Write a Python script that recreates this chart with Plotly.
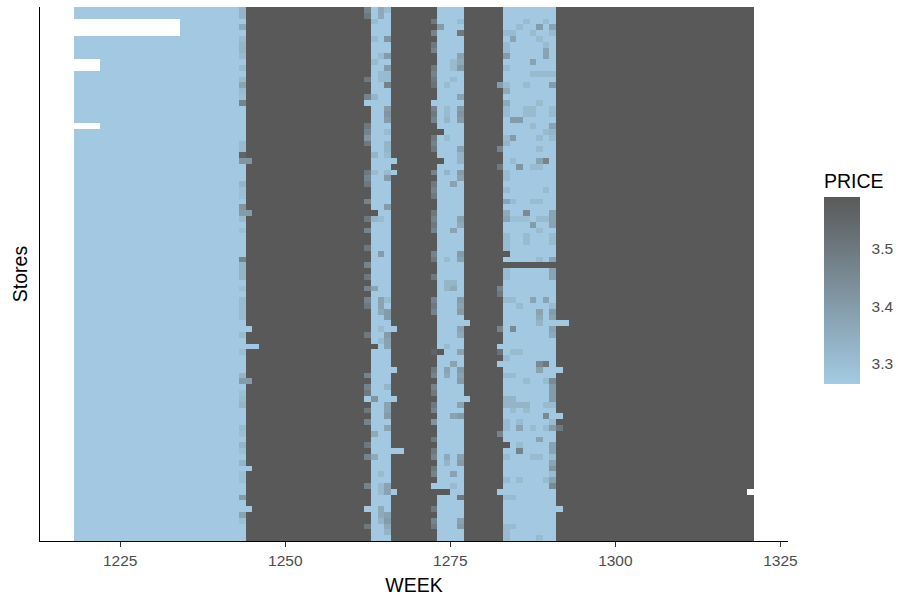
import numpy as np
import plotly.graph_objects as go

# ---- data -----------------------------------------------------------------
WEEKS = list(range(1218, 1321))
N_STORES = 92  # row 0 is the top row of the grid

# regular shelf price by period: (first week, last week, price)
PRICE_PERIODS = [
    (1218, 1243, 3.27),
    (1244, 1262, 3.59),
    (1263, 1265, 3.27),
    (1266, 1272, 3.59),
    (1273, 1276, 3.27),
    (1277, 1282, 3.59),
    (1283, 1290, 3.27),
    (1291, 1320, 3.59),
]

# store-level prices that differ from the regular price: week -> {store row: price}
STORE_PRICES = {
    1243: {0: 3.33, 1: 3.33, 3: 3.36, 5: 3.31, 6: 3.33, 7: 3.33, 8: 3.31, 10: 3.31,
           12: 3.31, 13: 3.38, 14: 3.31, 15: 3.30, 16: 3.47, 23: 3.31, 24: 3.31,
           25: 3.56, 26: 3.42, 30: 3.33, 31: 3.30, 32: 3.30, 34: 3.42, 35: 3.40,
           36: 3.31, 38: 3.30, 43: 3.47, 44: 3.33, 45: 3.33, 46: 3.33, 48: 3.30,
           50: 3.31, 51: 3.31, 52: 3.31, 53: 3.31, 56: 3.31, 59: 3.30, 63: 3.33,
           64: 3.40, 66: 3.30, 67: 3.31, 68: 3.33, 72: 3.31, 73: 3.30, 75: 3.33,
           76: 3.30, 78: 3.33, 80: 3.30, 81: 3.30, 84: 3.40, 87: 3.38, 88: 3.30},
    1244: {26: 3.42, 35: 3.40, 55: 3.27, 58: 3.27, 64: 3.40, 79: 3.27, 86: 3.27},
    1245: {58: 3.27},
    1262: {0: 3.47, 1: 3.50, 12: 3.50, 15: 3.47, 16: 3.27, 20: 3.50, 21: 3.47,
           22: 3.42, 23: 3.50, 28: 3.50, 29: 3.47, 30: 3.50, 33: 3.47, 36: 3.50,
           38: 3.47, 41: 3.50, 44: 3.47, 46: 3.50, 48: 3.47, 50: 3.47, 51: 3.50,
           56: 3.50, 63: 3.47, 65: 3.47, 66: 3.50, 67: 3.27, 69: 3.50, 71: 3.47,
           75: 3.50, 77: 3.47, 82: 3.47, 86: 3.27, 89: 3.50},
    1263: {2: 3.31, 5: 3.31, 9: 3.31, 15: 3.33, 25: 3.33, 28: 3.31, 35: 3.59,
           36: 3.33, 48: 3.38, 58: 3.59, 67: 3.42, 73: 3.36, 77: 3.36},
    1264: {0: 3.36, 1: 3.36, 8: 3.31, 11: 3.31, 12: 3.31, 36: 3.31, 42: 3.40,
           50: 3.38, 51: 3.38, 52: 3.36, 55: 3.31, 57: 3.31, 80: 3.31, 82: 3.31,
           83: 3.31, 86: 3.36, 87: 3.36, 88: 3.33},
    1265: {0: 3.31, 5: 3.42, 8: 3.40, 10: 3.40, 11: 3.31, 12: 3.31, 13: 3.47,
           17: 3.40, 18: 3.42, 19: 3.40, 21: 3.31, 23: 3.33, 24: 3.33, 25: 3.31,
           28: 3.31, 29: 3.40, 34: 3.40, 50: 3.31, 52: 3.40, 53: 3.40, 56: 3.40,
           57: 3.38, 58: 3.38, 65: 3.33, 68: 3.38, 69: 3.38, 70: 3.40, 72: 3.38,
           82: 3.38, 83: 3.38, 87: 3.38, 88: 3.40, 89: 3.36, 90: 3.33},
    1266: {26: 3.27, 28: 3.27, 55: 3.27, 62: 3.27, 67: 3.27, 76: 3.27, 83: 3.27},
    1267: {76: 3.27},
    1272: {2: 3.50, 4: 3.47, 6: 3.50, 7: 3.47, 10: 3.50, 11: 3.47, 12: 3.50,
           13: 3.52, 16: 3.27, 17: 3.47, 18: 3.50, 19: 3.47, 22: 3.50, 23: 3.47,
           24: 3.50, 28: 3.47, 30: 3.50, 31: 3.47, 32: 3.50, 35: 3.50, 36: 3.47,
           37: 3.50, 38: 3.47, 42: 3.47, 43: 3.50, 46: 3.50, 50: 3.47, 51: 3.50,
           52: 3.47, 59: 3.56, 62: 3.50, 63: 3.47, 65: 3.47, 66: 3.50, 68: 3.50,
           69: 3.47, 71: 3.42, 74: 3.50, 76: 3.50, 77: 3.47, 79: 3.50, 80: 3.47,
           82: 3.27, 86: 3.50, 88: 3.47, 89: 3.50},
    1273: {3: 3.40, 21: 3.59, 26: 3.59, 59: 3.59, 83: 3.59},
    1274: {13: 3.31, 17: 3.31, 18: 3.31, 19: 3.33, 22: 3.31, 28: 3.33, 43: 3.31,
           47: 3.33, 48: 3.33, 58: 3.31, 62: 3.38, 63: 3.36, 77: 3.36, 78: 3.33,
           83: 3.59},
    1275: {9: 3.31, 10: 3.31, 12: 3.31, 30: 3.38, 38: 3.38, 47: 3.33, 48: 3.36,
           61: 3.38, 70: 3.38, 80: 3.38, 82: 3.31},
    1276: {2: 3.31, 4: 3.50, 8: 3.38, 9: 3.36, 10: 3.40, 15: 3.38, 17: 3.40,
           18: 3.42, 19: 3.40, 24: 3.38, 25: 3.33, 26: 3.33, 28: 3.40, 29: 3.38,
           36: 3.38, 37: 3.36, 42: 3.40, 43: 3.38, 50: 3.40, 51: 3.38, 52: 3.40,
           55: 3.38, 56: 3.36, 59: 3.38, 62: 3.40, 63: 3.38, 64: 3.40, 68: 3.38,
           70: 3.40, 77: 3.38, 78: 3.40, 84: 3.50, 88: 3.38, 89: 3.40},
    1277: {54: 3.27, 67: 3.27},
    1282: {13: 3.40, 24: 3.47, 27: 3.50, 48: 3.47, 49: 3.50, 55: 3.47, 58: 3.27,
           59: 3.52, 61: 3.27, 73: 3.47, 83: 3.27},
    1283: {4: 3.31, 6: 3.31, 7: 3.31, 8: 3.40, 10: 3.31, 13: 3.31, 14: 3.36,
           16: 3.36, 17: 3.31, 18: 3.31, 22: 3.31, 23: 3.33, 28: 3.31, 29: 3.31,
           31: 3.31, 33: 3.38, 35: 3.36, 36: 3.38, 39: 3.31, 40: 3.31, 41: 3.31,
           42: 3.59, 44: 3.59, 45: 3.31, 46: 3.31, 50: 3.31, 60: 3.31, 63: 3.31,
           67: 3.33, 68: 3.33, 71: 3.31, 72: 3.31, 75: 3.59, 77: 3.31, 81: 3.31,
           84: 3.31, 89: 3.31, 90: 3.31, 91: 3.31},
    1284: {4: 3.31, 5: 3.38, 19: 3.40, 22: 3.40, 26: 3.31, 33: 3.31, 36: 3.30,
           44: 3.59, 50: 3.31, 55: 3.45, 59: 3.31, 63: 3.31, 67: 3.33, 68: 3.33,
           69: 3.31, 84: 3.31, 89: 3.31},
    1285: {3: 3.31, 19: 3.40, 27: 3.42, 36: 3.30, 44: 3.59, 51: 3.31, 59: 3.31,
           68: 3.33, 71: 3.31, 72: 3.38, 75: 3.31, 76: 3.47, 81: 3.31},
    1286: {2: 3.31, 13: 3.31, 17: 3.31, 18: 3.31, 35: 3.45, 36: 3.30, 39: 3.31,
           40: 3.31, 44: 3.59, 64: 3.31, 68: 3.33, 69: 3.31},
    1287: {4: 3.31, 9: 3.38, 11: 3.31, 17: 3.31, 18: 3.31, 20: 3.31, 27: 3.31,
           33: 3.31, 37: 3.40, 44: 3.59, 50: 3.38, 72: 3.31, 77: 3.31},
    1288: {3: 3.40, 5: 3.31, 11: 3.31, 16: 3.31, 22: 3.31, 24: 3.31, 26: 3.38,
           27: 3.31, 33: 3.31, 36: 3.31, 38: 3.31, 43: 3.31, 44: 3.59, 52: 3.38,
           53: 3.36, 54: 3.33, 61: 3.45, 62: 3.38, 74: 3.38, 77: 3.31, 91: 3.31},
    1289: {2: 3.31, 6: 3.31, 7: 3.38, 8: 3.38, 11: 3.31, 21: 3.31, 26: 3.47,
           31: 3.31, 36: 3.31, 44: 3.59, 50: 3.38, 61: 3.50, 64: 3.31, 68: 3.31,
           70: 3.45, 72: 3.31, 81: 3.31},
    1290: {3: 3.38, 4: 3.31, 11: 3.31, 13: 3.40, 17: 3.31, 18: 3.31, 20: 3.38,
           21: 3.33, 22: 3.31, 35: 3.38, 36: 3.38, 37: 3.38, 39: 3.31, 40: 3.31,
           43: 3.38, 44: 3.59, 45: 3.38, 46: 3.38, 51: 3.31, 52: 3.40, 53: 3.38,
           55: 3.38, 56: 3.36, 64: 3.45, 65: 3.40, 66: 3.40, 67: 3.40, 68: 3.31,
           71: 3.31, 72: 3.40, 75: 3.38, 76: 3.38, 77: 3.31, 78: 3.38, 79: 3.42,
           80: 3.31, 81: 3.38, 82: 3.45},
    1291: {54: 3.27, 62: 3.27, 70: 3.27, 72: 3.50, 86: 3.27},
    1292: {54: 3.27},
}

# store weeks without a recorded price: (store row, first week, last week)
MISSING = [
    (2, 1218, 1233), (3, 1218, 1233), (4, 1218, 1233),
    (9, 1218, 1221), (10, 1218, 1221), (20, 1218, 1221),
    (83, 1320, 1320),
]

PRICE_TICKS = [3.3, 3.4, 3.5]
WEEK_TICKS = [1225, 1250, 1275, 1300, 1325]

# ---- price grid -------------------------------------------------------------
col = {w: i for i, w in enumerate(WEEKS)}
z = np.full((N_STORES, len(WEEKS)), np.nan)
for first, last, price in PRICE_PERIODS:
    z[:, col[first]:col[last] + 1] = price
for week, rows in STORE_PRICES.items():
    for r, price in rows.items():
        z[r, col[week]] = price
for r, first, last in MISSING:
    z[r, col[first]:col[last] + 1] = np.nan

week_edges = WEEKS + [WEEKS[-1] + 1]
row_edges = list(range(N_STORES + 1))

LOW, HIGH = "#A3CBE3", "#595959"
FONT = "Liberation Sans, Arial, sans-serif"
TITLE_SIZE = 19.5
TICK_SIZE = 15.5

fig = go.Figure(
    go.Heatmap(
        x=week_edges,
        y=row_edges,
        z=z,
        zmin=3.265,
        zmax=3.59,
        colorscale=[[0, LOW], [1, HIGH]],
        hoverongaps=False,
        colorbar=dict(
            title=dict(text="PRICE", side="top",
                       font=dict(size=TITLE_SIZE, color="black", family=FONT)),
            tickvals=PRICE_TICKS,
            ticktext=[f"{v:.1f}" for v in PRICE_TICKS],
            tickfont=dict(size=TICK_SIZE, color="#4D4D4D", family=FONT),
            ticks="outside",
            tickcolor="white",
            ticklen=9,
            tickwidth=1,
            thickness=36,
            thicknessmode="pixels",
            len=214,
            lenmode="pixels",
            x=1.048,
            xanchor="left",
            xpad=0,
            y=0.4944,
            yanchor="middle",
            ypad=0,
            outlinewidth=0,
        ),
    )
)

fig.update_layout(
    width=898,
    height=598,
    margin=dict(l=40, r=110, t=7, b=57, autoexpand=False),
    plot_bgcolor="white",
    paper_bgcolor="white",
    font=dict(family=FONT),
    xaxis=dict(
        range=[1212.85, 1326.15],
        tickvals=WEEK_TICKS,
        ticks="outside",
        ticklen=5,
        tickwidth=1.1,
        tickcolor="#333333",
        tickfont=dict(size=TICK_SIZE, color="#4D4D4D", family=FONT),
        showline=True,
        linecolor="black",
        linewidth=1.1,
        showgrid=False,
        zeroline=False,
        title=dict(text="WEEK", font=dict(size=TITLE_SIZE, color="black", family=FONT),
                   standoff=10),
    ),
    yaxis=dict(
        range=[N_STORES, 0],
        showticklabels=False,
        ticks="",
        showline=True,
        linecolor="black",
        linewidth=1.1,
        showgrid=False,
        zeroline=False,
        title=dict(text="Stores", font=dict(size=TITLE_SIZE, color="black", family=FONT),
                   standoff=6),
    ),
)

fig.write_html("out.html")
